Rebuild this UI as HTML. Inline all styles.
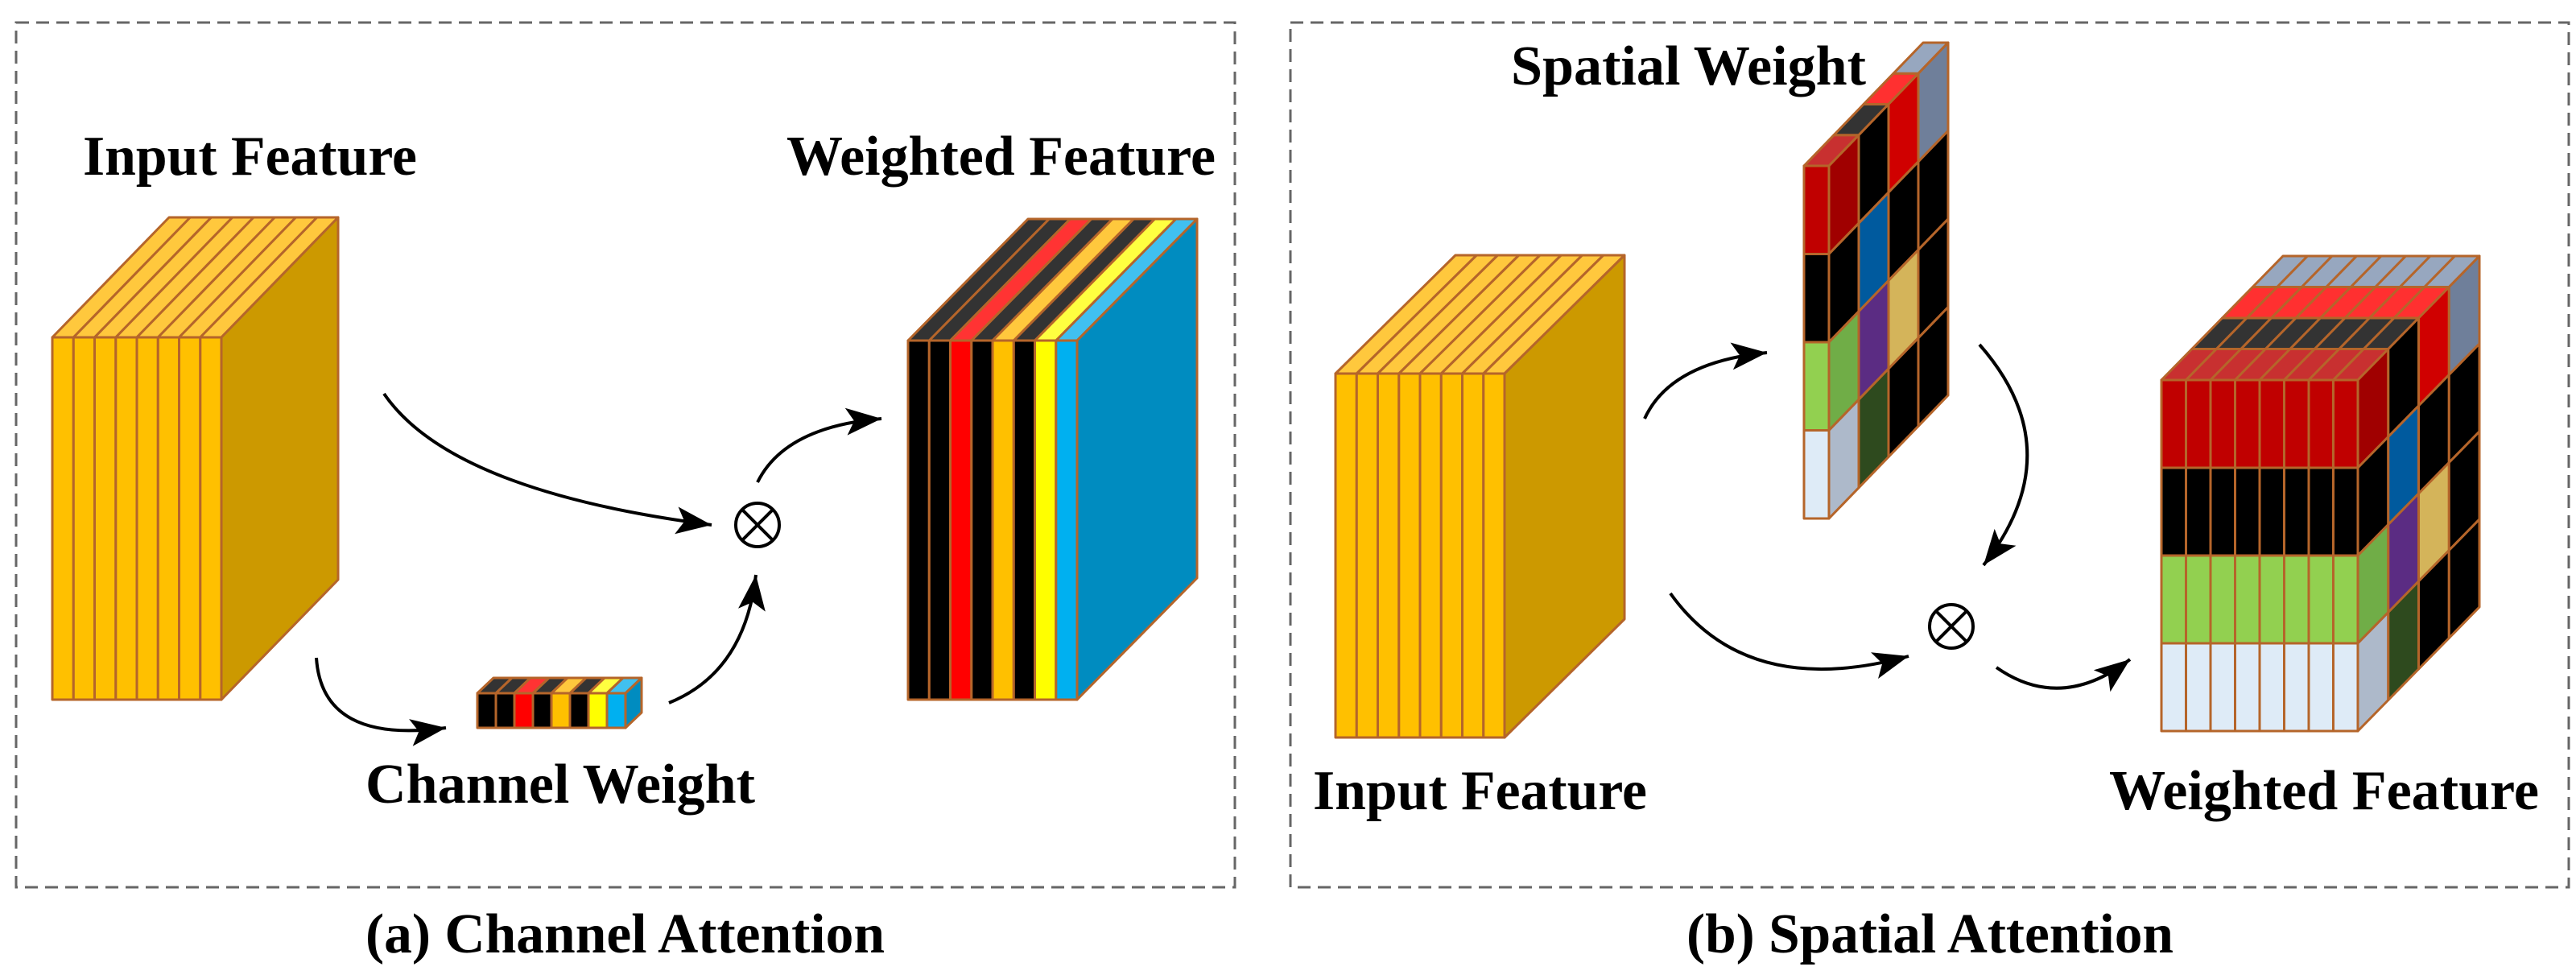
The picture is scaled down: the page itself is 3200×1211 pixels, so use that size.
<!DOCTYPE html>
<html><head><meta charset="utf-8"><style>html,body{margin:0;padding:0;background:#fff}svg{display:block}text{font-family:"Liberation Serif",serif;font-weight:bold;fill:#000}</style></head>
<body>
<svg id="s" width="3200" height="1211" viewBox="0 0 3200 1211" xmlns="http://www.w3.org/2000/svg">
<defs>
<marker id="ah" markerUnits="userSpaceOnUse" markerWidth="50" markerHeight="40" refX="44" refY="17" orient="auto">
<path d="M0,0 L44,17 L0,34 L10,17 Z" fill="#000"/>
</marker>
</defs>
<rect x="20" y="28" width="1514" height="1074" fill="none" stroke="#666" stroke-width="3" stroke-dasharray="16 9"/>
<rect x="1603" y="28" width="1588" height="1074" fill="none" stroke="#666" stroke-width="3" stroke-dasharray="16 9"/>
<g id="shapes"></g>
<g fill="none" stroke="#000" stroke-width="4" marker-end="url(#ah)">
<path d="M477,489 Q560,610 884,652"/>
<path d="M941,599 Q975,530 1095,520"/>
<path d="M393,817 Q400,925 554,904"/>
<path d="M831,873 Q925,835 939,714"/>
<path d="M2043,520 Q2075,450 2195,438"/>
<path d="M2459,428 Q2575,560 2464,702"/>
<path d="M2075,737 Q2170,870 2371,815"/>
<path d="M2480,829 Q2560,885 2646,819"/>
</g>
<g fill="none" stroke="#000" stroke-width="4">
<circle cx="941" cy="652" r="27"/>
<line x1="922" y1="633" x2="960" y2="671"/><line x1="960" y1="633" x2="922" y2="671"/>
<circle cx="2424" cy="778" r="27"/>
<line x1="2405" y1="759" x2="2443" y2="797"/><line x1="2443" y1="759" x2="2405" y2="797"/>
</g>
<text x="103" y="217" font-size="70" textLength="415" lengthAdjust="spacingAndGlyphs">Input Feature</text>
<text x="977" y="217" font-size="70" textLength="533" lengthAdjust="spacingAndGlyphs">Weighted Feature</text>
<text x="454" y="997" font-size="70" textLength="484" lengthAdjust="spacingAndGlyphs">Channel Weight</text>
<text x="454" y="1183" font-size="70" textLength="645" lengthAdjust="spacingAndGlyphs">(a) Channel Attention</text>
<text x="1877" y="105" font-size="70" textLength="441" lengthAdjust="spacingAndGlyphs">Spatial Weight</text>
<text x="1631" y="1005" font-size="70" textLength="415" lengthAdjust="spacingAndGlyphs">Input Feature</text>
<text x="2620" y="1005" font-size="70" textLength="534" lengthAdjust="spacingAndGlyphs">Weighted Feature</text>
<text x="2095" y="1183" font-size="70" textLength="605" lengthAdjust="spacingAndGlyphs">(b) Spatial Attention</text>
</svg>
<script>
var g=document.getElementById('shapes'),out='';
function poly(p,c){out+='<polygon points="'+p.map(function(a){return a[0].toFixed(1)+','+a[1].toFixed(1)}).join(' ')+'" fill="'+c+'" stroke="#B5652A" stroke-width="3" stroke-linejoin="round"/>';}
function box(x0,y0,W,H,n,D,R,dx,dy,f,s,t){
 var w=W/n,h=H/R,ddx=dx/D,ddy=dy/D,i,d,r;
 for(i=0;i<n;i++)for(d=0;d<D;d++){var x=x0+i*w+d*ddx,y=y0+d*ddy;poly([[x,y],[x+w,y],[x+w+ddx,y+ddy],[x+ddx,y+ddy]],t(i,d));}
 for(d=0;d<D;d++)for(r=0;r<R;r++){var x=x0+W+d*ddx,y=y0+r*h+d*ddy;poly([[x,y],[x+ddx,y+ddy],[x+ddx,y+ddy+h],[x,y+h]],s(d,r));}
 for(i=0;i<n;i++)for(r=0;r<R;r++){var x=x0+i*w,y=y0+r*h;poly([[x,y],[x+w,y],[x+w,y+h],[x,y+h]],f(i,r));}
}
function K(c){return function(){return c}}
box(65,419,210,450,8,1,1,145,-149,K('#FFC000'),K('#CC9900'),K('#FFC83D'));
box(1659,464,210,452,8,1,1,149,-147,K('#FFC000'),K('#CC9900'),K('#FFC83D'));
var fc=['#000','#000','#FF0000','#000','#FFC000','#000','#FFFF00','#00B0F0'];
var tc=['#333','#333','#FF3333','#333','#FFC83D','#333','#FFFF40','#40C0F0'];
box(1128,423,210,446,8,1,1,149,-151,function(i){return fc[i]},K('#008CC0'),function(i){return tc[i]});
box(593,861,184,43,8,1,1,20,-19,function(i){return fc[i]},K('#008CC0'),function(i){return tc[i]});
var fr=['#C00000','#000','#92D050','#DEEBF7'];
var sd=[['#A00000','#000','#70AD47','#ADB9CA'],['#000','#005A9E','#5B2C83','#2E4A1E'],['#D00000','#000','#D4B45A','#000'],['#6F7F9A','#000','#000','#000']];
var tp=['#C83030','#333','#FF3030','#97A7BF'];
box(2241,206,31,438,1,4,4,148,-153,function(i,r){return fr[r]},function(d,r){return sd[d][r]},function(i,d){return tp[d]});
box(2685,472,244,436,8,4,4,151,-154,function(i,r){return fr[r]},function(d,r){return sd[d][r]},function(i,d){return tp[d]});
g.innerHTML=out;
</script>
</body></html>
